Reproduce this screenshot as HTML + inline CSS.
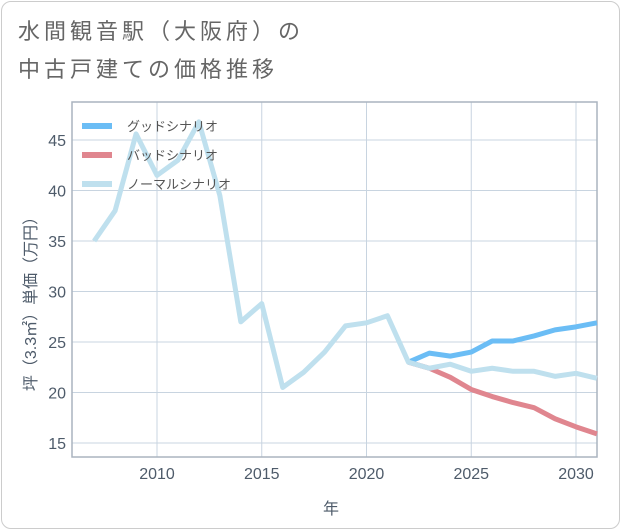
<!DOCTYPE html>
<html><head><meta charset="utf-8"><style>
body{margin:0;background:#fff;font-family:"Liberation Sans","Noto Sans CJK JP",sans-serif;}
#card{position:absolute;left:1px;top:1px;width:617px;height:526px;border:1px solid #ccc;border-radius:10px;background:#fff;}
#title{position:absolute;left:18px;top:13px;font-size:22px;letter-spacing:4px;line-height:38px;color:#666;}
svg{position:absolute;left:0;top:0;}
</style></head><body>
<div id="card"></div>
<div id="title">水間観音駅（大阪府）の<br>中古戸建ての価格推移</div>
<svg id="chart" width="621" height="530"></svg>
<script>
const years=[2007,2008,2009,2010,2011,2012,2013,2014,2015,2016,2017,2018,2019,2020,2021,2022,2023,2024,2025,2026,2027,2028,2029,2030,2031];
const normal=[35,38,45.6,41.5,43,46.8,39.5,27,28.8,20.5,22,24,26.6,26.9,27.6,23,22.4,22.8,22.1,22.4,22.1,22.1,21.6,21.9,21.4];
const futureYears=[2022,2023,2024,2025,2026,2027,2028,2029,2030,2031];
const good=[23,23.9,23.6,24,25.1,25.1,25.6,26.2,26.5,26.9];
const bad=[23,22.4,21.5,20.3,19.6,19,18.5,17.4,16.6,15.9];
const yTicks=[15,20,25,30,35,40,45];
const xTicks=[2010,2015,2020,2025,2030];
const L=72,R=597,T=102,B=457;
const x=v=>157+(v-2010)*20.95;
const y=v=>443-(v-15)*10.1;
const s=document.getElementById('chart');const NS='http://www.w3.org/2000/svg';
function add(tag,attrs,name,text){const e=document.createElementNS(NS,tag);for(const k in attrs)e.setAttribute(k,attrs[k]);


if(text!==undefined)e.textContent=text;s.appendChild(e);return e;}
yTicks.forEach(t=>{add('line',{x1:L,x2:R,y1:y(t),y2:y(t),stroke:'#c8d4e0','stroke-width':1},'y-gridline');
add('text',{x:L-6,y:y(t)+6,'text-anchor':'end','font-size':16,fill:'#4e5b6a'},'y-tick-label',String(t));});
xTicks.forEach(t=>{add('line',{x1:x(t),x2:x(t),y1:T,y2:B,stroke:'#c8d4e0','stroke-width':1},'x-gridline');
add('text',{x:x(t),y:B+22,'text-anchor':'middle','font-size':16,fill:'#4e5b6a'},'x-tick-label',String(t));});
add('rect',{x:L,y:T,width:R-L,height:B-T,fill:'none',stroke:'#aab4bf','stroke-width':1.5},'plot-border');
function line(xs,vs,c,n){add('polyline',{points:xs.map((yr,i)=>x(yr)+','+y(vs[i])).join(' '),fill:'none',stroke:c,'stroke-width':5,'stroke-linejoin':'round'},n);}
line(futureYears,bad,'#e0868f','bad-scenario-line');
line(futureYears,good,'#6bbdf5','good-scenario-line');
line(years,normal,'#bfe0ee','normal-scenario-line');
const legend=[['グッドシナリオ','#6bbdf5'],['バッドシナリオ','#e0868f'],['ノーマルシナリオ','#bfe0ee']];
legend.forEach((l,i)=>{const yy=126+i*29;
add('line',{x1:82,x2:112,y1:yy,y2:yy,stroke:l[1],'stroke-width':6},'legend-swatch');
add('text',{x:127,y:yy+5,'font-size':13,fill:'#555'},'legend-label',l[0]);});
add('text',{x:331,y:514,'text-anchor':'middle','font-size':16,fill:'#4e5b6a'},'x-axis-title','年');
add('text',{x:36,y:300,'text-anchor':'middle','font-size':16,fill:'#4e5b6a',transform:'rotate(-90 36 300)'},'y-axis-title','坪（3.3㎡）単価（万円）');
</script>
</body></html>
